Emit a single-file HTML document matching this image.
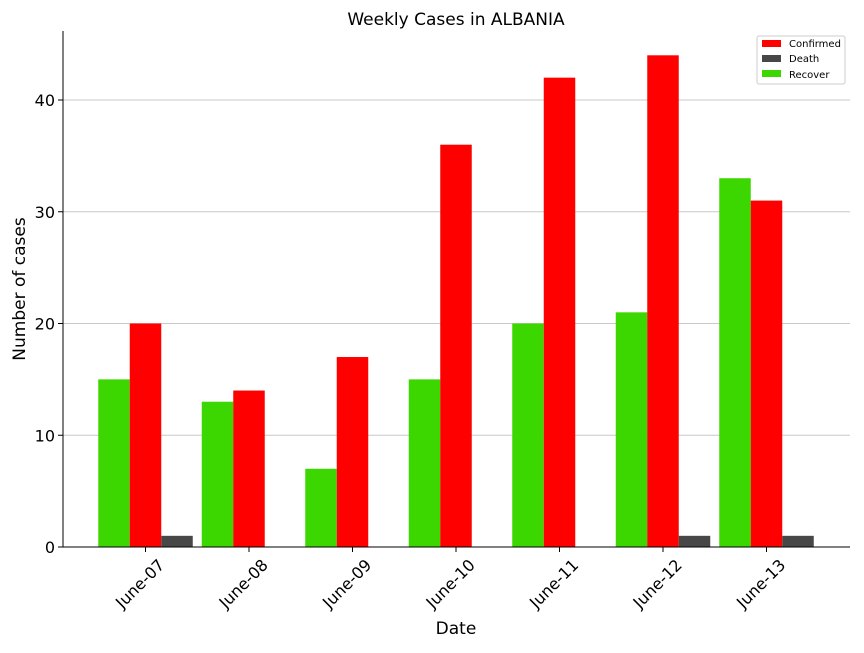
<!DOCTYPE html>
<html><head><meta charset="utf-8"><style>
body{margin:0;background:#fff;}
svg{font-family:"DejaVu Sans","Liberation Sans",sans-serif;}
</style></head><body>
<svg id="chart" width="864" height="648" xmlns="http://www.w3.org/2000/svg"></svg>
<script>
const categories=["June-07","June-08","June-09","June-10","June-11","June-12","June-13"];
const recover=[15,13,7,15,20,21,33];
const confirmed=[20,14,17,36,42,44,31];
const death=[1,0,0,0,0,1,1];
const yTicks=[0,10,20,30,40];
const NS="http://www.w3.org/2000/svg";
const svg=document.getElementById('chart');
const L=63,R=850,T=31,B=547;
const yS=v=>B-v*(447/40);
const xC=i=>145.5+i*103.5;
const bw=31.5;
function el(t,a,p){const e=document.createElementNS(NS,t);for(const k in a)e.setAttribute(k,a[k]);(p||svg).appendChild(e);return e;}
yTicks.forEach(v=>{
  if(v>0){const g=el('line',{x1:L,x2:R,y1:yS(v),y2:yS(v),stroke:'#c8c8c8','stroke-width':1});
  
  }
  el('line',{x1:L-5,x2:L,y1:yS(v),y2:yS(v),stroke:'#000'});
  const t=el('text',{x:L-8,y:yS(v)+6,'text-anchor':'end','font-size':16});
  t.textContent=v;
  
  
});
const series=[[recover,'#3cd700','bar-recover',-1],[confirmed,'#ff0000','bar-confirmed',0],[death,'#474747','bar-death',1]];
categories.forEach((c,i)=>{
  series.forEach(([arr,col,nm,off])=>{
    const v=arr[i];
    const r=el('rect',{x:xC(i)+off*bw-bw/2,y:yS(v),width:bw,height:B-yS(v),fill:col});
    
    
  });
  el('line',{x1:xC(i),x2:xC(i),y1:B,y2:B+5,stroke:'#000'});
  const t=el('text',{'font-size':16,'text-anchor':'end',transform:`translate(${xC(i)+20},${B+19}) rotate(-45)`});
  t.textContent=c;
  
  
});
el('line',{x1:L,x2:L,y1:T,y2:B,stroke:'#000'});
el('line',{x1:L,x2:R,y1:B,y2:B,stroke:'#000'});
</script>
<div style="position:absolute;left:0;top:0;width:864px;height:648px;pointer-events:none">
<svg width="864" height="648" style="position:absolute;left:0;top:0;font-family:'DejaVu Sans','Liberation Sans',sans-serif">
<text x="456" y="25" text-anchor="middle" font-size="17">Weekly Cases in ALBANIA</text>
<text x="456" y="634" text-anchor="middle" font-size="17">Date</text>
<text transform="translate(25,289) rotate(-90)" text-anchor="middle" font-size="17">Number of cases</text>
<g>
<rect x="757" y="36" width="88" height="48" fill="#fff" stroke="#ccc" rx="2"/>
<rect x="762" y="40" width="19" height="7" fill="#ff0000"/>
<text x="789" y="47" font-size="10">Confirmed</text>
<rect x="762" y="55" width="19" height="7" fill="#474747"/>
<text x="789" y="62" font-size="10">Death</text>
<rect x="762" y="70" width="19" height="7" fill="#3cd700"/>
<text x="789" y="78" font-size="10">Recover</text>
</g>
</svg></div>
</body></html>
